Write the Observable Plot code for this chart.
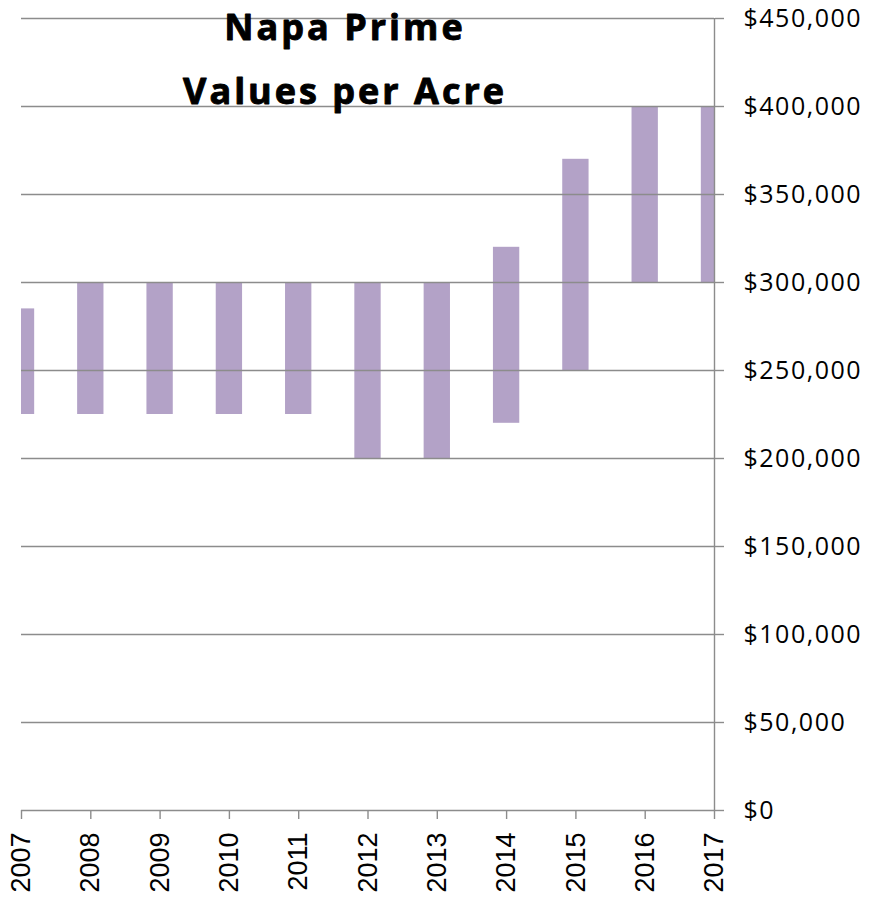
<!DOCTYPE html>
<html><head><meta charset="utf-8">
<script src="https://cdn.jsdelivr.net/npm/d3@7"></script>
<script src="https://cdn.jsdelivr.net/npm/@observablehq/plot@0.6"></script>
<style>
body{margin:0;background:#fff;}
</style></head><body><div id="chart"></div>
<script>
const years = [2007, 2008, 2009, 2010, 2011, 2012, 2013, 2014, 2015, 2016, 2017];
const lowValues = [225000, 225000, 225000, 225000, 225000, 200000, 200000, 220000, 250000, 300000, 300000];
const highValues = [285000, 300000, 300000, 300000, 300000, 300000, 300000, 320000, 370000, 400000, 400000];
const yTicks = [0, 50000, 100000, 150000, 200000, 250000, 300000, 350000, 400000, 450000];
const titleLines = ["Napa Prime", "Values per Acre"];

const rows = years.map((year, i) => ({year, low: lowValues[i], high: highValues[i]}));
const gray = "#8c8c8c";
const halfBar = 0.19;

const chart = Plot.plot({
  width: 869, height: 898,
  marginLeft: 21, marginRight: 155, marginTop: 18, marginBottom: 88,
  style: {fontFamily: "'Liberation Sans', Arial, sans-serif", background: "#fff", color: "#000"},
  x: {type: "linear", domain: [2007, 2017]},
  y: {domain: [0, 450000]},
  marks: [
    Plot.rectY(rows, {x1: d => d.year - halfBar, x2: d => d.year + halfBar, y1: "low", y2: "high", fill: "#b3a2c7", clip: true}),
    Plot.ruleY(yTicks, {stroke: gray, strokeWidth: 1.4}),
    Plot.ruleX([2017], {y1: 0, y2: 450000, stroke: gray, strokeWidth: 1.4}),
    Plot.axisY({anchor: "right", ticks: yTicks, tickSize: 9, tickPadding: 20, tickFormat: d => "$" + d3.format(",")(d), fontSize: 25, fontFamily: "'Open Sans', sans-serif", stroke: gray, strokeWidth: 1.4, strokeOpacity: 1, label: null}),
    Plot.axisX({ticks: years, tickSize: 9, tickPadding: 13, tickRotate: -90, tickFormat: "d", fontSize: 27, stroke: gray, strokeWidth: 1.4, strokeOpacity: 1, label: null}),
    Plot.text([titleLines.join("\n")], {text: d => d, frameAnchor: "top", lineAnchor: "top", dx: -23, dy: -25, fontSize: 36, fontWeight: "bold", fontFamily: "'Open Sans', sans-serif", lineHeight: 1.8, fill: "#000", stroke: "#000", strokeWidth: 0.9})
  ]
});
document.getElementById("chart").appendChild(chart);
d3.select(chart).selectAll('g[aria-label="y-axis tick label"] text').style("letter-spacing", "1.5px");
d3.select(chart).selectAll('g[aria-label="text"] text').style("letter-spacing", "3px");
</script>
</body></html>
